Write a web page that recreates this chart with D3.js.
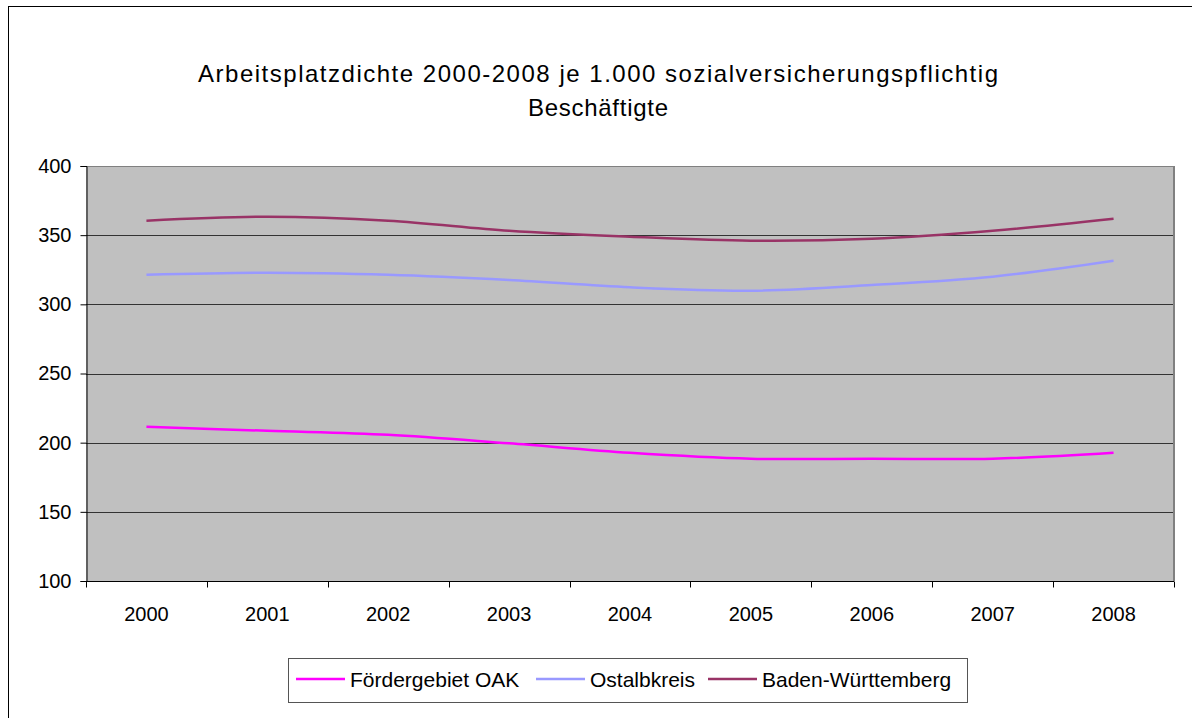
<!doctype html>
<html>
  <head>
    <meta charset="utf-8">
    <script src="https://cdnjs.cloudflare.com/ajax/libs/d3/7.8.5/d3.min.js"></script>
    <style>
      body { margin: 0; background: #fff; }
      text { font-family: "Liberation Sans", Arial, sans-serif; fill: #000; }
    </style>
  </head>
  <body>
    <svg id="chart" width="1192" height="718"></svg>
    <script>
        var years = ["2000", "2001", "2002", "2003", "2004", "2005", "2006", "2007", "2008"];
        var foerdergebiet = [211.5, 208.6, 205.7, 199.5, 192.7, 188.4, 188.4, 188.4, 192.7];
        var ostalbkreis = [321.4, 322.9, 321.4, 317.6, 312.3, 309.9, 314, 320, 331.5];
        var badenWuerttemberg = [360.5, 363.3, 360.5, 353.2, 348.9, 346, 347.4, 353.2, 361.9];
        var yTicks = [100, 150, 200, 250, 300, 350, 400];

        var series = [
            { name: "Fördergebiet OAK", values: foerdergebiet, color: "#ff00ff" },
            { name: "Ostalbkreis", values: ostalbkreis, color: "#9999ff" },
            { name: "Baden-Württemberg", values: badenWuerttemberg, color: "#993366" }
        ];

        var svg = d3.select("#chart");
        var plotLeft = 86, plotRight = 1174, plotTop = 166, plotBottom = 581;

        // outer chart frame (runs past the window on the right and bottom)
        svg.append("rect")
            .attr("x", 8.5).attr("y", 6.5)
            .attr("width", 1200).attr("height", 730)
            .attr("fill", "#fff").attr("stroke", "#000");

        svg.append("text")
            .attr("x", 598).attr("y", 82)
            .attr("text-anchor", "middle")
            .attr("textLength", 800).attr("lengthAdjust", "spacing")
            .style("font-size", "24px")
            .text("Arbeitsplatzdichte 2000-2008 je 1.000 sozialversicherungspflichtig");
        svg.append("text")
            .attr("x", 598).attr("y", 116)
            .attr("text-anchor", "middle")
            .attr("textLength", 140).attr("lengthAdjust", "spacing")
            .style("font-size", "24px")
            .text("Beschäftigte");

        var x = d3.scaleBand().domain(years).range([plotLeft, plotRight]).padding(0);
        var y = d3.scaleLinear().domain([100, 400]).range([plotBottom, plotTop]);
        var cx = d => x(d) + x.bandwidth() / 2;

        svg.append("rect")
            .attr("x", plotLeft).attr("y", plotTop)
            .attr("width", plotRight - plotLeft).attr("height", plotBottom - plotTop)
            .attr("fill", "#c0c0c0");

        // gridlines
        svg.append("g").selectAll("line")
            .data(yTicks.filter(t => t > 100 && t < 400))
            .enter()
            .append("line")
                .attr("x1", plotLeft).attr("x2", plotRight)
                .attr("y1", d => Math.round(y(d)) + 0.5)
                .attr("y2", d => Math.round(y(d)) + 0.5)
                .style("stroke", "#333");

        // top and right border of plot area
        svg.append("line")
            .attr("x1", plotLeft).attr("x2", plotRight)
            .attr("y1", plotTop + 0.5).attr("y2", plotTop + 0.5)
            .style("stroke", "#808080");
        svg.append("line")
            .attr("x1", plotRight).attr("x2", plotRight)
            .attr("y1", plotTop).attr("y2", plotBottom)
            .style("stroke", "#808080").style("stroke-width", 2);

        // y axis
        var yAxis = svg.append("g")
            .attr("transform", "translate(" + (plotLeft + 0.5) + ",0)")
            .call(d3.axisLeft(y).tickValues(yTicks).tickSize(6).tickPadding(9));
        yAxis.selectAll("text").style("font-size", "20px").style("font-family", "'Liberation Sans', Arial, sans-serif");
        yAxis.selectAll("path, line").style("stroke", "#000");

        // x axis with ticks on category boundaries
        var xAxis = svg.append("g").attr("transform", "translate(0," + (plotBottom + 0.5) + ")");
        xAxis.append("line")
            .attr("x1", plotLeft).attr("x2", plotRight)
            .style("stroke", "#000");
        xAxis.selectAll("line.tick")
            .data(years.concat(["end"]))
            .enter()
            .append("line")
                .attr("class", "tick")
                .attr("x1", (d, i) => Math.round(plotLeft + i * x.bandwidth()) + 0.5)
                .attr("x2", (d, i) => Math.round(plotLeft + i * x.bandwidth()) + 0.5)
                .attr("y1", 0).attr("y2", 6)
                .style("stroke", "#000");
        xAxis.selectAll("text")
            .data(years)
            .enter()
            .append("text")
                .attr("x", d => cx(d))
                .attr("y", 39)
                .attr("text-anchor", "middle")
                .style("font-size", "20px")
                .text(d => d);

        var line = d3.line()
            .x((d, i) => cx(years[i]))
            .y(d => y(d))
            .curve(d3.curveCatmullRom);

        svg.append("g").selectAll("path.series")
            .data(series)
            .enter()
            .append("path")
                .attr("class", "series")
                .attr("d", d => line(d.values))
                .style("fill", "none")
                .style("stroke", d => d.color)
                .style("stroke-width", 2.5);

        // legend
        var legend = svg.append("g");
        legend.append("rect")
            .attr("x", 288.5).attr("y", 658.5)
            .attr("width", 679).attr("height", 44)
            .attr("fill", "#fff").attr("stroke", "#555");
        var legendX = [296, 536, 708];
        series.forEach((s, i) => {
            legend.append("line")
                .attr("x1", legendX[i]).attr("x2", legendX[i] + 49)
                .attr("y1", 679).attr("y2", 679)
                .style("stroke", s.color).style("stroke-width", 2.5);
            legend.append("text")
                .attr("x", legendX[i] + 54).attr("y", 687)
                .style("font-size", "21px")
                .text(s.name);
        });
    </script>
  </body>
</html>
